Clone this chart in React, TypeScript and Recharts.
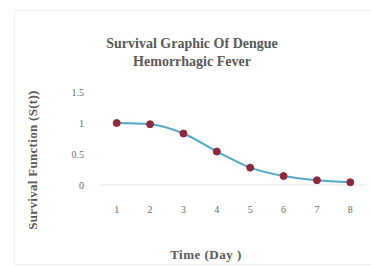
import { LineChart, Line, XAxis, YAxis } from 'recharts';

const days = [1, 2, 3, 4, 5, 6, 7, 8];
const survival = [1.0, 0.98, 0.83, 0.54, 0.28, 0.145, 0.076, 0.044];
const yTicks = [0, 0.5, 1, 1.5];

const chartData = days.map((d, i) => ({ day: d, s: survival[i] }));

const serif = '"Liberation Serif", "DejaVu Serif", serif';

export default function App() {
  return (
    <div style={{ position: 'absolute', left: 0, top: 0, width: 371, height: 266, background: '#fff', fontFamily: serif }}>
      <div style={{ position: 'absolute', left: 14, top: 10, width: 380, height: 253, border: '1px solid #f0f0f0' }} />
      <div
        style={{
          position: 'absolute', left: 92, width: 200, top: 35, textAlign: 'center',
          fontWeight: 'bold', fontSize: 14, lineHeight: '18px', color: '#595959',
        }}
      >
        Survival Graphic Of Dengue
        <br />
        Hemorrhagic Fever
      </div>
      <LineChart width={371} height={266} data={chartData} margin={{ top: 92, right: 4, bottom: 51, left: 60 }}>
        <XAxis
          type="number"
          dataKey="day"
          domain={[0.5, 8.5]}
          ticks={days}
          height={30}
          tickLine={false}
          tickSize={0}
          tickMargin={21}
          axisLine={{ stroke: '#e4e4e4', strokeWidth: 1 }}
          tick={{ fontSize: 10, fill: '#666', fontFamily: serif }}
        />
        <YAxis
          type="number"
          domain={[0, 1.5]}
          ticks={yTicks}
          width={40}
          axisLine={false}
          tickLine={false}
          tickSize={0}
          tickMargin={16}
          tick={{ fontSize: 10, fill: '#666', fontFamily: serif }}
        />
        <Line
          type="monotone"
          dataKey="s"
          stroke="#52a8c8"
          strokeWidth={2}
          dot={{ r: 3.5, fill: '#8c2a3c', stroke: '#8c2a3c', strokeWidth: 1 }}
          isAnimationActive={false}
        />
      </LineChart>
      <div
        style={{
          position: 'absolute', left: 33, top: 160, transform: 'translate(-50%, -50%) rotate(-90deg)',
          whiteSpace: 'nowrap', fontWeight: 'bold', fontSize: 13, letterSpacing: 0.3, color: '#595959',
        }}
      >
        Survival Function (S(t))
      </div>
      <div
        style={{
          position: 'absolute', left: 206, top: 255, transform: 'translate(-50%, -50%)',
          whiteSpace: 'nowrap', fontWeight: 'bold', fontSize: 13, letterSpacing: 0.5, color: '#595959',
        }}
      >
        Time (Day )
      </div>
    </div>
  );
}
